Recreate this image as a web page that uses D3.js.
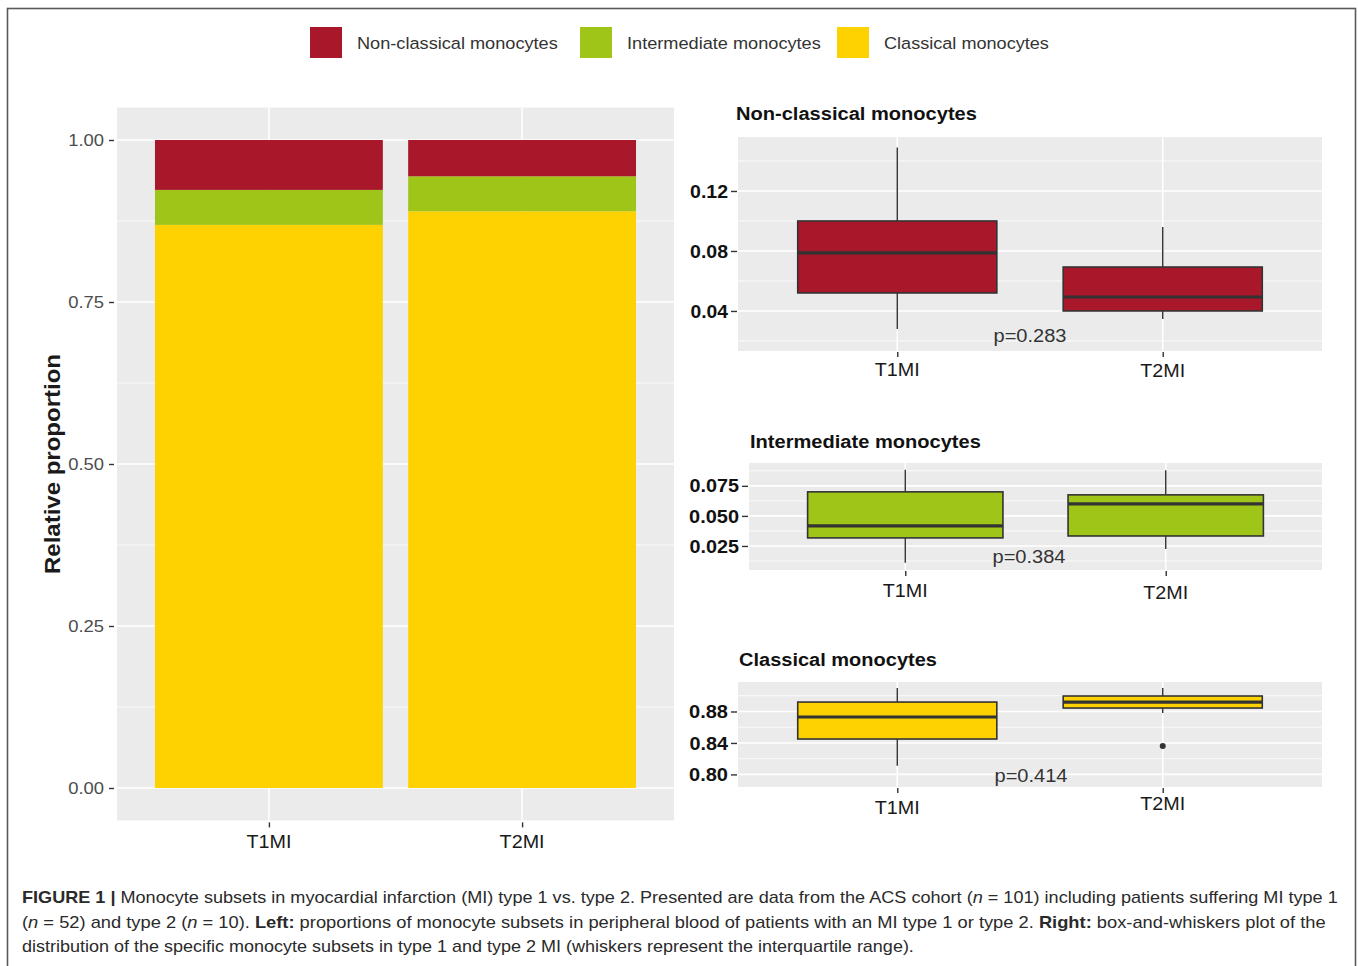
<!DOCTYPE html>
<html>
<head>
<meta charset="utf-8">
<script src="https://cdn.jsdelivr.net/npm/d3@7"></script>
<style>
  html, body { margin: 0; padding: 0; background: #fff; }
  svg { display: block; font-family: "Liberation Sans", Arial, sans-serif; }
</style>
</head>
<body>
<svg id="fig" width="1358" height="966"></svg>
<script>
// ---- data ----
const groups = ["T1MI", "T2MI"];
const subsets = ["Non-classical monocytes", "Intermediate monocytes", "Classical monocytes"];
const subsetColors = ["#A8172A", "#A0C519", "#FDD200"];

// mean share of each subset per MI type (stacked bar)
const nonClassicalShare = [0.077, 0.056];
const intermediateShare = [0.054, 0.054];
const classicalShare = [0.869, 0.890];

// box statistics per subset: [whisker low, Q1, median, Q3, whisker high]
const nonClassicalBoxes = [[0.028, 0.052, 0.0787, 0.100, 0.149], [0.0347, 0.040, 0.0493, 0.0693, 0.096]];
const intermediateBoxes = [[0.011, 0.0317, 0.0417, 0.070, 0.0883], [0.0225, 0.0333, 0.060, 0.0675, 0.088]];
const classicalBoxes = [[0.811, 0.845, 0.873, 0.892, 0.910], [0.878, 0.8844, 0.892, 0.8997, 0.910]];
const classicalOutliers = [[], [0.836]];

const pValues = ["p=0.283", "p=0.384", "p=0.414"];
const pValueY = [0.0233, 0.0158, 0.799];

const stackTicks = [0, 0.25, 0.5, 0.75, 1];
const nonClassicalTicks = [0.04, 0.08, 0.12];
const intermediateTicks = [0.025, 0.05, 0.075];
const classicalTicks = [0.80, 0.84, 0.88];

const captionLines = [
  [["FIGURE 1 | ", "b"], ["Monocyte subsets in myocardial infarction (MI) type 1 vs. type 2. Presented are data from the ACS cohort ("], ["n", "i"], [" = 101) including patients suffering MI type 1"]],
  [["("], ["n", "i"], [" = 52) and type 2 ("], ["n", "i"], [" = 10). "], ["Left:", "b"], [" proportions of monocyte subsets in peripheral blood of patients with an MI type 1 or type 2. "], ["Right:", "b"], [" box-and-whiskers plot of the"]],
  [["distribution of the specific monocyte subsets in type 1 and type 2 MI (whiskers represent the interquartile range)."]]
];

// ---- helpers ----
const svg = d3.select("#fig");
const PANEL = "#EBEBEB";

// text whose horizontal extent is fitted to a given width
function label(parent, str, x, y, o = {}) {
  const g = parent.append("g").attr("transform", `translate(${x},${y})` + (o.rotate ? ` rotate(${o.rotate})` : ""));
  const t = g.append("text")
    .attr("text-anchor", o.anchor || "start")
    .attr("dy", o.dy == null ? "0.35em" : o.dy)
    .attr("font-size", o.size || 16)
    .attr("font-weight", o.bold ? "bold" : "normal")
    .attr("fill", o.color || "#1A1A1A")
    .text(str);
  if (o.width) {
    const w = t.node().getBBox().width;
    t.attr("transform", `scale(${o.width / w},1)`);
  }
  return t;
}

// frame
svg.append("rect").attr("x", 7.5).attr("y", 8.5).attr("width", 1348).attr("height", 980)
  .attr("fill", "none").attr("stroke", "#5a5a5a").attr("stroke-width", 1.6);

// ---- legend ----
const legendX = [310, 580, 837];
const legendW = [201, 194, 165];
subsets.forEach((s, i) => {
  svg.append("rect").attr("x", legendX[i]).attr("y", 27).attr("width", 32).attr("height", 31).attr("fill", subsetColors[i]);
  label(svg, s, legendX[i] + 47, 43, { size: 17, color: "#333", width: legendW[i] });
});

// ---- stacked proportion bars ----
{
  const L = { x0: 117, x1: 674, y0: 107.6, y1: 820.4 };
  const x = d3.scalePoint().domain(groups).range([L.x0, L.x1]).padding(0.6);
  const step = x.step();
  const y = d3.scaleLinear().domain([-0.05, 1.05]).range([L.y1, L.y0]);
  const g = svg.append("g");
  g.append("rect").attr("x", L.x0).attr("y", L.y0).attr("width", L.x1 - L.x0).attr("height", L.y1 - L.y0).attr("fill", PANEL);
  const minor = d3.range(0.125, 1, 0.25);
  g.selectAll(".mn").data(minor).join("line").attr("x1", L.x0).attr("x2", L.x1)
    .attr("y1", d => y(d)).attr("y2", d => y(d)).attr("stroke", "#fff").attr("stroke-width", 0.8);
  g.selectAll(".mj").data(stackTicks).join("line").attr("x1", L.x0).attr("x2", L.x1)
    .attr("y1", d => y(d)).attr("y2", d => y(d)).attr("stroke", "#fff").attr("stroke-width", 1.6);
  g.selectAll(".vg").data(groups).join("line").attr("x1", d => x(d)).attr("x2", d => x(d))
    .attr("y1", L.y0).attr("y2", L.y1).attr("stroke", "#fff").attr("stroke-width", 1.6);

  const rows = groups.map((grp, i) => ({ grp, nc: nonClassicalShare[i], im: intermediateShare[i], cl: classicalShare[i] }));
  const stack = d3.stack().keys(["cl", "im", "nc"])(rows);
  const keyColor = { nc: subsetColors[0], im: subsetColors[1], cl: subsetColors[2] };
  stack.forEach(layer => {
    g.selectAll(null).data(layer).join("rect")
      .attr("x", d => x(d.data.grp) - 0.45 * step).attr("width", 0.9 * step)
      .attr("y", d => y(d[1])).attr("height", d => y(d[0]) - y(d[1]))
      .attr("fill", keyColor[layer.key]);
  });

  const yAxis = d3.axisLeft(y).tickValues(stackTicks).tickFormat(d3.format(".2f")).tickSize(5).tickPadding(4);
  const ya = g.append("g").attr("transform", `translate(${L.x0 - 3},0)`).call(yAxis);
  ya.select(".domain").remove();
  ya.selectAll(".tick line").attr("stroke", "#333").attr("stroke-width", 1.4);
  ya.selectAll(".tick text").remove();
  stackTicks.forEach(v => label(g, d3.format(".2f")(v), 104, y(v), { anchor: "end", size: 16, color: "#4D4D4D", width: 36 }));

  const xAxis = d3.axisBottom(x).tickSize(5).tickPadding(4);
  const xa = g.append("g").attr("transform", `translate(0,${L.y1 + 2})`).call(xAxis);
  xa.select(".domain").remove();
  xa.selectAll(".tick line").attr("stroke", "#333").attr("stroke-width", 1.4);
  xa.selectAll(".tick text").remove();
  groups.forEach(grp => label(g, grp, x(grp), 842, { anchor: "middle", size: 18, color: "#1A1A1A", width: 45 }));

  label(g, "Relative proportion", 52, 464, { anchor: "middle", size: 22, bold: true, rotate: -90, width: 220 });
}

// ---- box plots ----
function boxPanel(o) {
  const x = d3.scalePoint().domain(groups).range([o.x0, o.x1]).padding(0.6);
  const step = x.step();
  const y = d3.scaleLinear().domain(o.domain).range([o.y1, o.y0]);
  const g = svg.append("g");
  g.append("rect").attr("x", o.x0).attr("y", o.y0).attr("width", o.x1 - o.x0).attr("height", o.y1 - o.y0).attr("fill", PANEL);
  const half = (o.ticks[1] - o.ticks[0]) / 2;
  const minor = d3.range(o.ticks[0] - half * 3, o.domain[1], half * 2).filter(v => v > o.domain[0] && v < o.domain[1]);
  g.selectAll(null).data(minor).join("line").attr("x1", o.x0).attr("x2", o.x1)
    .attr("y1", d => y(d)).attr("y2", d => y(d)).attr("stroke", "#fff").attr("stroke-width", 0.8);
  g.selectAll(null).data(o.ticks).join("line").attr("x1", o.x0).attr("x2", o.x1)
    .attr("y1", d => y(d)).attr("y2", d => y(d)).attr("stroke", "#fff").attr("stroke-width", 1.6);
  g.selectAll(null).data(groups).join("line").attr("x1", d => x(d)).attr("x2", d => x(d))
    .attr("y1", o.y0).attr("y2", o.y1).attr("stroke", "#fff").attr("stroke-width", 1.6);

  const bw = 0.75 * step;
  o.boxes.forEach((b, i) => {
    const cx = x(groups[i]);
    const [lo, q1, med, q3, hi] = b;
    g.append("line").attr("x1", cx).attr("x2", cx).attr("y1", y(hi)).attr("y2", y(q3)).attr("stroke", "#333").attr("stroke-width", 1.4);
    g.append("line").attr("x1", cx).attr("x2", cx).attr("y1", y(q1)).attr("y2", y(lo)).attr("stroke", "#333").attr("stroke-width", 1.4);
    g.append("rect").attr("x", cx - bw / 2).attr("width", bw).attr("y", y(q3)).attr("height", y(q1) - y(q3))
      .attr("fill", o.color).attr("stroke", "#333").attr("stroke-width", 1.6);
    g.append("line").attr("x1", cx - bw / 2).attr("x2", cx + bw / 2).attr("y1", y(med)).attr("y2", y(med))
      .attr("stroke", "#333").attr("stroke-width", 3.2);
    (o.outliers ? o.outliers[i] : []).forEach(v => {
      g.append("circle").attr("cx", cx).attr("cy", y(v)).attr("r", 3).attr("fill", "#333");
    });
  });

  const yAxis = d3.axisLeft(y).tickValues(o.ticks).tickSize(6);
  const ya = g.append("g").attr("transform", `translate(${o.x0 - 1},0)`).call(yAxis);
  ya.select(".domain").remove();
  ya.selectAll(".tick line").attr("stroke", "#333").attr("stroke-width", 1.4);
  ya.selectAll(".tick text").remove();
  o.ticks.forEach(v => label(g, o.fmt(v), o.x0 - 10, y(v), { anchor: "end", size: 19, bold: true, color: "#111", width: o.tickW }));

  const xAxis = d3.axisBottom(x).tickSize(5);
  const xa = g.append("g").attr("transform", `translate(0,${o.y1 + 1})`).call(xAxis);
  xa.select(".domain").remove();
  xa.selectAll(".tick line").attr("stroke", "#333").attr("stroke-width", 1.4);
  xa.selectAll(".tick text").remove();
  groups.forEach((grp, i) => label(g, grp, x(grp), o.xLabelY[i], { anchor: "middle", size: 18.5, color: "#1A1A1A", width: 45 }));

  const mid = o.pX != null ? o.pX : (x(groups[0]) + x(groups[1])) / 2;
  label(g, o.p, mid, y(o.pY), { anchor: "middle", size: 18.5, color: "#333", width: 73 });
  label(g, o.title, o.titleX, o.titleY, { size: 18.5, bold: true, color: "#111", width: o.titleW });
}

boxPanel({
  x0: 738, x1: 1322, y0: 137, y1: 351, domain: [0.0133, 0.156],
  ticks: nonClassicalTicks, fmt: d3.format(".2f"), tickW: 38,
  boxes: nonClassicalBoxes, color: subsetColors[0],
  p: pValues[0], pY: pValueY[0], xLabelY: [370, 371],
  title: subsets[0], titleX: 736, titleY: 114, titleW: 241
});
boxPanel({
  x0: 749, x1: 1322, y0: 463, y1: 570, domain: [0.005, 0.094],
  ticks: intermediateTicks, fmt: d3.format(".3f"), tickW: 50,
  boxes: intermediateBoxes, color: subsetColors[1],
  p: pValues[1], pY: pValueY[1], pX: 1029, xLabelY: [591, 593],
  title: subsets[1], titleX: 750, titleY: 442, titleW: 231
});
boxPanel({
  x0: 738, x1: 1322, y0: 682, y1: 787, domain: [0.784, 0.9175],
  ticks: classicalTicks, fmt: d3.format(".2f"), tickW: 39,
  boxes: classicalBoxes, outliers: classicalOutliers, color: subsetColors[2],
  p: pValues[2], pY: pValueY[2], pX: 1031, xLabelY: [808, 804],
  title: subsets[2], titleX: 739, titleY: 660, titleW: 198
});

// ---- caption ----
const capY = [903, 928, 952];
const capW = [1316, 1304, 892];
captionLines.forEach((parts, i) => {
  const g = svg.append("g").attr("transform", `translate(22,${capY[i]})`);
  const t = g.append("text").attr("font-size", 17).attr("fill", "#2a2a2a");
  parts.forEach(([s, st]) => {
    const ts = t.append("tspan").text(s);
    if (st === "b") ts.attr("font-weight", "bold");
    if (st === "i") ts.attr("font-style", "italic");
  });
  const w = t.node().getBBox().width;
  t.attr("transform", `scale(${capW[i] / w},1)`);
});
</script>
</body>
</html>
